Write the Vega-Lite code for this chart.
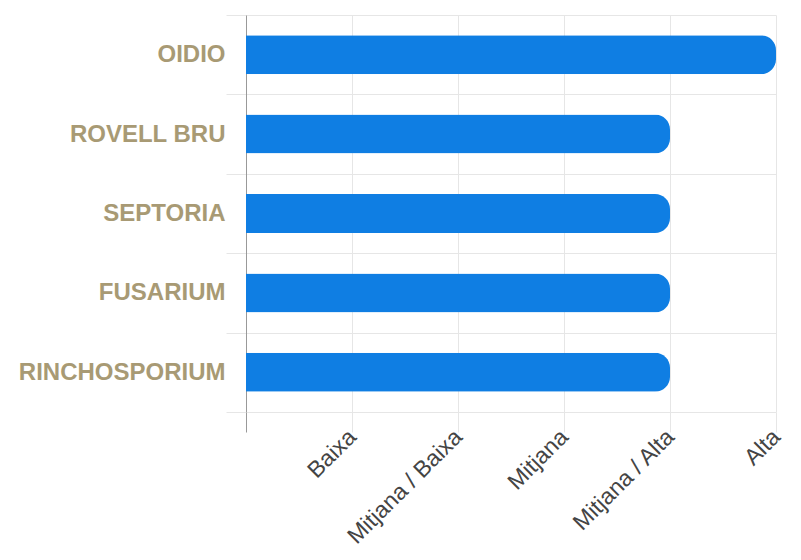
{
  "$schema": "https://vega.github.io/schema/vega-lite/v6.json",
  "width": 530,
  "height": 397,
  "autosize": {"type": "none"},
  "padding": {"left": 246, "top": 15, "right": 25, "bottom": 148},
  "background": "white",
  "config": {"view": {"stroke": null}},
  "data": {
    "values": [
      {"malaltia": "OIDIO", "nivell": 5},
      {"malaltia": "ROVELL BRU", "nivell": 4},
      {"malaltia": "SEPTORIA", "nivell": 4},
      {"malaltia": "FUSARIUM", "nivell": 4},
      {"malaltia": "RINCHOSPORIUM", "nivell": 4}
    ]
  },
  "mark": {"type": "bar", "size": 39, "cornerRadiusEnd": 15, "color": "#0f7ee3"},
  "encoding": {
    "y": {
      "field": "malaltia",
      "type": "nominal",
      "sort": null,
      "title": null,
      "scale": {"paddingInner": 0, "paddingOuter": 0},
      "axis": {
        "tickBand": "extent",
        "grid": true,
        "gridColor": "#e6e6e6",
        "ticks": true,
        "tickSize": 20,
        "tickColor": "#e6e6e6",
        "domain": true,
        "domainColor": "#999999",
        "labelFont": "Liberation Sans",
        "labelFontWeight": "bold",
        "labelFontSize": 24,
        "labelColor": "#a89a74",
        "labelPadding": 1,
        "labelLimit": 300
      }
    },
    "x": {
      "field": "nivell",
      "type": "quantitative",
      "title": null,
      "scale": {"domain": [0, 5], "nice": false},
      "axis": {
        "values": [0, 1, 2, 3, 4, 5],
        "grid": true,
        "gridColor": "#e6e6e6",
        "ticks": true,
        "tickSize": 20,
        "tickColor": {"condition": {"test": "datum.value === 0", "value": "#999999"}, "value": "#e6e6e6"},
        "domain": false,
        "labelAngle": -45,
        "labelAlign": "right",
        "labelBaseline": "middle",
        "labelFont": "Liberation Sans",
        "labelFontSize": 23,
        "labelColor": "#444444",
        "labelPadding": 1,
        "labelLimit": 300,
        "labelOverlap": false,
        "labelExpr": "datum.value == 1 ? 'Baixa' : datum.value == 2 ? 'Mitjana / Baixa' : datum.value == 3 ? 'Mitjana' : datum.value == 4 ? 'Mitjana / Alta' : datum.value == 5 ? 'Alta' : ''"
      }
    }
  }
}
